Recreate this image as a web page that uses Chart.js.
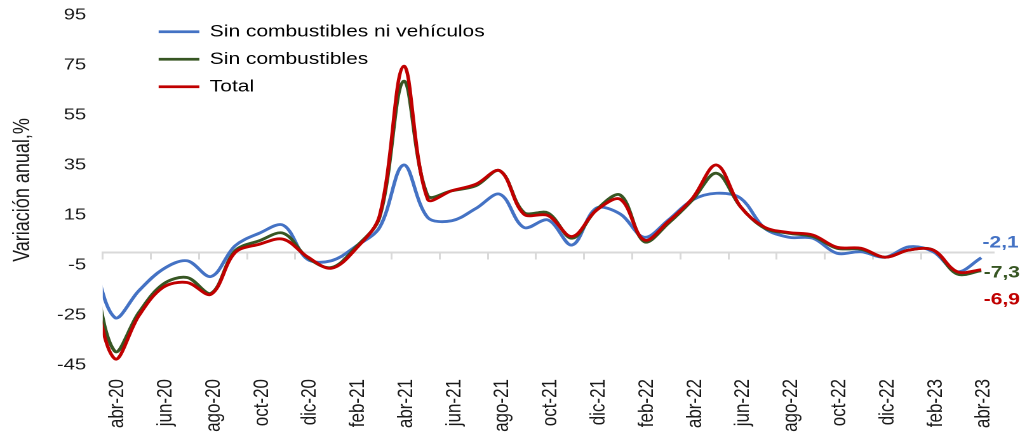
<!DOCTYPE html>
<html><head><meta charset="utf-8">
<script src="https://cdn.jsdelivr.net/npm/chart.js@4/dist/chart.umd.min.js"></script>
<style>
html,body{margin:0;padding:0;background:#fff;overflow:hidden;}
#wrap{position:absolute;left:0;top:0;width:803px;height:433px;transform:scaleX(1.2702);transform-origin:0 0;}
</style></head><body>
<div id="wrap"><canvas id="c" width="803" height="433"></canvas></div>
<script>
// Months: mar-20 (partly clipped at the left edge) to abr-23
const months = ['mar-20','abr-20','may-20','jun-20','jul-20','ago-20','sep-20','oct-20','nov-20','dic-20',
  'ene-21','feb-21','mar-21','abr-21','may-21','jun-21','jul-21','ago-21','sep-21','oct-21','nov-21','dic-21',
  'ene-22','feb-22','mar-22','abr-22','may-22','jun-22','jul-22','ago-22','sep-22','oct-22','nov-22','dic-22',
  'ene-23','feb-23','mar-23','abr-23'];
const sinCombustiblesNiVehiculos = [1, -26, -15.3, -6.7, -3.3, -9.6, 2.7, 7.7, 10.9, -2.7, -3.3, 2.4, 10, 35, 14, 12.7, 17.6, 23.3, 10, 13, 3, 17.7, 15.4, 6.1, 13, 21, 23.7, 21.7, 9.7, 6.1, 5.7, -0.3, 0.3, -1.9, 2.3, 0.3, -7.7, -2.1];
const sinCombustibles = [-2, -39.5, -24, -12.7, -10, -16.3, 0.7, 4.7, 7.7, -2, -6, 2, 14, 68.5, 22.7, 24.7, 26.7, 32.7, 16, 15.8, 5.7, 17, 23, 4.3, 11.7, 21, 31.7, 18.3, 9.7, 7.7, 6.4, 1.7, 1.3, -1.9, 1, 1, -8.6, -7.3];
const total = [-10, -42.5, -25.3, -14, -12, -16.7, 0, 3.3, 5.3, -1.7, -6.3, 1.3, 14.7, 74.5, 21.3, 24.7, 27.3, 32.7, 15.3, 14.8, 6.4, 16.8, 21.3, 5, 12.4, 21.7, 35, 18.3, 10.1, 8, 7, 2.1, 1.7, -1.9, 1, 1, -7.7, -6.9];
const yTickValues = [-45, -25, -5, 15, 35, 55, 75, 95];
const seriesNames = ['Sin combustibles ni vehículos', 'Sin combustibles', 'Total'];

const FONT = "'Liberation Sans', Arial, sans-serif";
const TXT = '#1a1a1a';
const toPoints = arr => arr.map((v, k) => ({x: k - 1, y: v}));
const labelTicks = [];  // every second month from abr-20
for (let k = 0; k <= 36; k += 2) labelTicks.push(k);
const markTicks = labelTicks.slice(0, -1).map(v => v - 0.5);

const endLabelOffsets = [{dx: 1, dy: -15}, {dx: 2, dy: 2}, {dx: 2, dy: 30}];
const endLabels = {
  id: 'endLabels',
  afterDatasetsDraw(chart) {
    const ctx = chart.ctx;
    chart.data.datasets.forEach((ds, i) => {
      const meta = chart.getDatasetMeta(i);
      const el = meta.data[meta.data.length - 1];
      const v = ds.data[ds.data.length - 1].y;
      const off = endLabelOffsets[i];
      ctx.save();
      ctx.font = 'bold 16.5px ' + FONT;
      ctx.fillStyle = ds.borderColor;
      ctx.textAlign = 'left';
      ctx.textBaseline = 'middle';
      ctx.fillText(v.toFixed(1).replace('.', ','), el.x + off.dx, el.y + off.dy);
      ctx.restore();
    });
  }
};
const legendPlace = {
  id: 'legendPlace',
  afterLayout(chart) {
    const lg = chart.legend; if (!lg) return;
    const ca = chart.chartArea;
    lg.left = ca.left + 33; lg.right = lg.left + 400;
    lg.top = ca.top - 2.5; lg.bottom = ca.bottom;
  }
};

new Chart(document.getElementById('c'), {
  type: 'line',
  data: {
    datasets: [
      {label: seriesNames[0], data: toPoints(sinCombustiblesNiVehiculos), borderColor: '#4472C4', backgroundColor: '#4472C4', borderWidth: 2.8, order: 3},
      {label: seriesNames[1], data: toPoints(sinCombustibles), borderColor: '#375623', backgroundColor: '#375623', borderWidth: 2.8, order: 2},
      {label: seriesNames[2], data: toPoints(total), borderColor: '#C00000', backgroundColor: '#C00000', borderWidth: 2.8, order: 1}
    ]
  },
  options: {
    responsive: false,
    animation: false,
    devicePixelRatio: 2,
    layout: {padding: {top: 15, right: 21, bottom: 0, left: 0}},
    elements: {
      line: {tension: 0.35, capBezierPoints: false, fill: false},
      point: {radius: 0, hoverRadius: 0}
    },
    plugins: {
      tooltip: {enabled: false},
      legend: {
        position: 'chartArea', align: 'start',
        labels: {
          sort: (a, b) => a.datasetIndex - b.datasetIndex,
          usePointStyle: true, pointStyle: 'line', pointStyleWidth: 32,
          padding: 11, color: '#000', font: {family: FONT, size: 16.5}
        }
      }
    },
    scales: {
      x: {
        type: 'linear', position: 'bottom', min: -0.5, max: 36.5,
        afterBuildTicks: s => { s.ticks = labelTicks.map(v => ({value: v})); },
        ticks: {autoSkip: false, minRotation: 90, maxRotation: 90, padding: 0, labelOffset: 2, color: TXT,
          font: {family: FONT, size: 17}, callback: v => months[v + 1]},
        grid: {display: false, drawTicks: true, tickLength: 14},
        border: {display: false},
        afterFit: s => { s.height = 68; }
      },
      x2: {
        type: 'linear', axis: 'x', position: {y: 0}, min: -0.5, max: 36.5,
        afterBuildTicks: s => { s.ticks = markTicks.map(v => ({value: v})); },
        ticks: {display: false},
        grid: {drawOnChartArea: false, drawTicks: true, tickLength: 6, color: '#d9d9d9', lineWidth: 1.5},
        border: {display: true, color: '#d9d9d9', width: 2}
      },
      y: {
        min: -45, max: 95,
        afterBuildTicks: s => { s.ticks = yTickValues.map(v => ({value: v})); },
        ticks: {padding: 0, color: TXT, font: {family: FONT, size: 16}},
        grid: {display: false, drawTicks: true, tickLength: 13},
        border: {display: false},
        title: {display: true, text: 'Variación anual,%', color: TXT, font: {family: FONT, size: 18}, padding: {top: 7, bottom: 0}},
        afterFit: s => { s.width = 80.9; }
      }
    }
  },
  plugins: [endLabels, legendPlace]
});
</script>
</body></html>
